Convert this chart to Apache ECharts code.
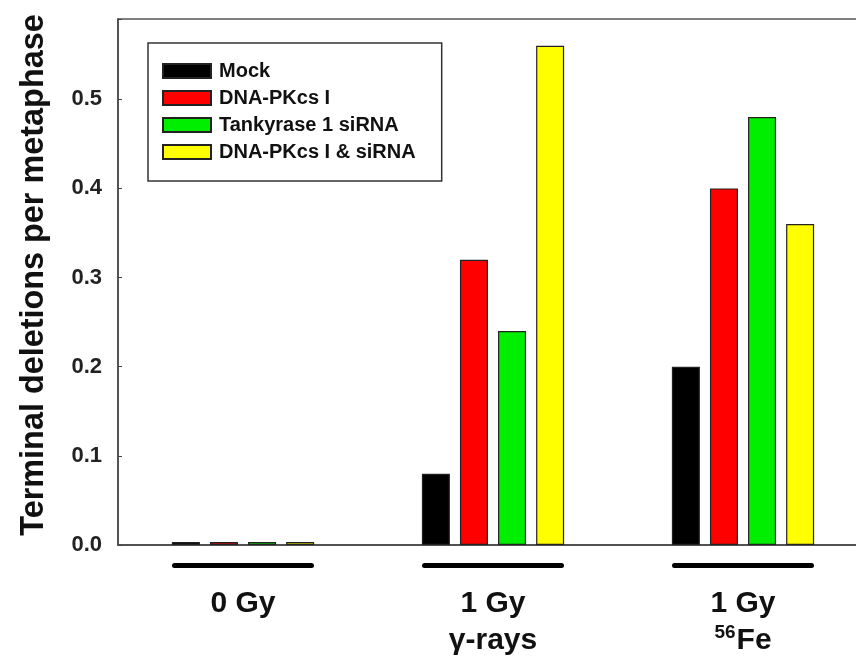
<!DOCTYPE html>
<html>
<head>
<meta charset="utf-8">
<script src="https://cdn.jsdelivr.net/npm/echarts@6/dist/echarts.min.js"></script>
<style>
html,body{margin:0;padding:0;background:#fff;}
#chart{width:856px;height:665px;}
</style>
</head>
<body>
<div id="chart"></div>
<script>
// ---- data ----
var categories = ['0 Gy', '1 Gy γ-rays', '1 Gy 56Fe'];
var seriesNames = ['Mock', 'DNA-PKcs I', 'Tankyrase 1 siRNA', 'DNA-PKcs I & siRNA'];
var mockValues = [0, 0.08, 0.20];
var pkcsValues = [0, 0.32, 0.40];
var tankValues = [0, 0.24, 0.48];
var bothValues = [0, 0.56, 0.36];
var yTicks = [0.0, 0.1, 0.2, 0.3, 0.4, 0.5];
var yTitle = 'Terminal deletions per metaphase';

var colors = ['#000000', '#ff0000', '#00ee00', '#ffff00'];
var font = '"Liberation Sans", Arial, sans-serif';

var labelMap = {
  '0 Gy': '{u|}\n{g|}\n{t|0 Gy}',
  '1 Gy γ-rays': '{u|}\n{g|}\n{t|1 Gy}\n{t|γ-rays}',
  '1 Gy 56Fe': '{u|}\n{g|}\n{t|1 Gy}\n{sup|56}{t|Fe}'
};

var chart = echarts.init(document.getElementById('chart'), null, {renderer: 'canvas'});
var allValues = [mockValues, pkcsValues, tankValues, bothValues];
var series = seriesNames.map(function (name, i) {
  return {
    name: name,
    type: 'bar',
    data: allValues[i],
    barWidth: 28,
    barGap: '36%',
    barMinHeight: 3,
    itemStyle: {color: colors[i], borderColor: '#222', borderWidth: 1.2},
    emphasis: {disabled: true}
  };
});

chart.setOption({
  animation: false,
  backgroundColor: '#fff',
  grid: {left: 118, top: 19, width: 750, bottom: 120, outerBoundsMode: 'none', show: true, borderColor: '#555', borderWidth: 1.5},
  legend: {
    orient: 'vertical',
    left: 148, top: 43,
    itemWidth: 48, itemHeight: 14, itemGap: 7,
    padding: [18, 26, 19, 14],
    borderColor: '#333', borderWidth: 1.5,
    icon: 'rect',
    textStyle: {fontFamily: font, fontWeight: 'bold', fontSize: 20, color: '#111', padding: [0, 0, 0, 3]},
    data: seriesNames
  },
  xAxis: {
    type: 'category',
    data: categories,
    axisTick: {show: false},
    axisLine: {lineStyle: {color: '#444', width: 1.5}},
    axisLabel: {
      margin: 18,
      interval: 0,
      formatter: function (v) { return labelMap[v]; },
      rich: {
        u: {width: 142, height: 5, lineHeight: 5, backgroundColor: '#000', borderRadius: 3},
        g: {height: 17, lineHeight: 17},
        t: {fontFamily: font, fontWeight: 'bold', fontSize: 30, lineHeight: 37, color: '#111'},
        sup: {fontFamily: font, fontWeight: 'bold', fontSize: 19, lineHeight: 37, color: '#111', verticalAlign: 'top', padding: [1, 1, 0, 0]}
      }
    }
  },
  yAxis: {
    type: 'value',
    min: 0, max: 0.59, interval: 0.1,
    name: yTitle,
    nameLocation: 'middle',
    nameRotate: 90,
    nameGap: 68,
    nameTextStyle: {fontFamily: font, fontWeight: 'bold', fontSize: 32.4, color: '#111', padding: [0, 0, 0, 14]},
    splitLine: {show: false},
    axisLine: {show: true, lineStyle: {color: '#444', width: 1.5}},
    axisTick: {show: true, inside: true, length: 4, lineStyle: {color: '#444'}},
    axisLabel: {
      margin: 16,
      fontFamily: font, fontWeight: 'bold', fontSize: 22, color: '#222',
      formatter: function (v) {
        var hit = yTicks.filter(function (t) { return Math.abs(t - v) < 1e-9; });
        return hit.length ? hit[0].toFixed(1) : '';
      }
    }
  },
  series: series
});
</script>
</body>
</html>
